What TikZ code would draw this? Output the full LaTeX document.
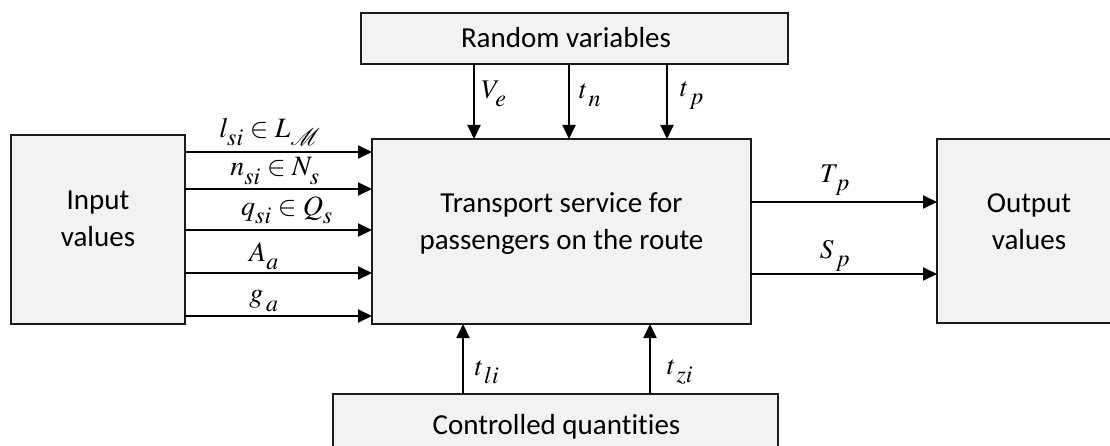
\documentclass[tikz,border=0pt]{standalone}
\usepackage{mathptmx}
\usepackage[no-math]{fontspec}
\setmainfont{Carlito}[Ligatures=NoCommon]
\DeclareMathSizes{27}{27}{24}{19}
\DeclareMathSizes{28}{28}{24}{19}
\newcommand{\lsub}[1]{_{\lower4pt\hbox{$\scriptstyle #1$}}}
\usetikzlibrary{arrows.meta}
\definecolor{boxfill}{HTML}{F2F2F2}
\definecolor{boxline}{HTML}{1A1A1A}
\tikzset{
  blk/.style={draw=boxline, line width=2pt, fill=boxfill, rectangle, inner sep=0pt, outer sep=0pt},
  btxt/.style={font=\fontsize{29}{37}\selectfont, align=center, inner sep=0pt},
  arr/.style={line width=2pt, -{Triangle[length=14pt,width=13pt]}},
  mlab/.style={font=\fontsize{27}{30}\selectfont, inner sep=0pt},
  mlabL/.style={font=\fontsize{28}{30}\selectfont, inner sep=0pt},
}
\begin{document}
\begin{tikzpicture}[x=1pt,y=-1pt]
\useasboundingbox (0,0) rectangle (1110,446);
\clip (0,0) rectangle (1110,446);
% boxes
\node[blk, minimum width=174pt, minimum height=189pt] (inp) at (98,229.5) {};
\node[blk, minimum width=379pt, minimum height=185pt] (main) at (561.5,231.5) {};
\node[blk, minimum width=185pt, minimum height=184pt] (out) at (1029.5,231) {};
\node[blk, minimum width=427pt, minimum height=51pt] (rnd) at (574.5,38.5) {};
\node[blk, minimum width=445pt, minimum height=62pt] (ctl) at (555.5,425) {};
% box texts
\node[btxt] (rndT) at (566,38) {Random variables};
\node[btxt] (inpT) at (98,219) {Input\\values};
\node[btxt] (mainT) at (561.5,224) {Transport service for\\passengers on the route};
\node[btxt] (outT) at (1029,222) {Output\\values};
\node[btxt] (ctlT) at (556.5,426.5) {Controlled quantities};
% input arrows
\draw[arr] (inp.east |- 0,152) -- (main.west |- 0,152);
\draw[arr] (inp.east |- 0,189) -- (main.west |- 0,189);
\draw[arr] (inp.east |- 0,230) -- (main.west |- 0,230);
\draw[arr] (inp.east |- 0,273) -- (main.west |- 0,273);
\draw[arr] (inp.east |- 0,316) -- (main.west |- 0,316);
% random variable arrows
\draw[arr] (rnd.south -| 474,0) -- (main.north -| 474,0);
\draw[arr] (rnd.south -| 569,0) -- (main.north -| 569,0);
\draw[arr] (rnd.south -| 667,0) -- (main.north -| 667,0);
% controlled arrows
\draw[arr] (ctl.north -| 463,0) -- (main.south -| 463,0);
\draw[arr] (ctl.north -| 650,0) -- (main.south -| 650,0);
% output arrows
\draw[arr] (main.east |- 0,202) -- (out.west |- 0,202);
\draw[arr] (main.east |- 0,274) -- (out.west |- 0,274);
% labels
\node[mlabL] (l1) at (270,132) {$l\lsub{si}\in L\lsub{\mathcal M}$};
\node[mlabL] (l2) at (275,171) {$n\lsub{si}\in N\lsub{s}$};
\node[mlabL] (l3) at (287,210) {$q\lsub{si}\in Q\lsub{s}$};
\node[mlabL] (l4) at (264,256) {$A\lsub{a}$};
\node[mlabL] (l5) at (264,301) {$g\lsub{\,a}$};
\node[mlab] (l6) at (494,94) {$V\lsub{e}$};
\node[mlab] (l7) at (590,95) {$t\lsub{\,n}$};
\node[mlab] (l8) at (692,96) {$t\lsub{\,p}$};
\node[mlab] (l9) at (487,372) {$t\lsub{\,li}$};
\node[mlab] (l10) at (680,372) {$t\lsub{\,zi}$};
\node[mlab] (l11) at (835,180) {$T\lsub{\,p}$};
\node[mlab] (l12) at (835,256) {$S\lsub{\,p}$};
\end{tikzpicture}
\end{document}
